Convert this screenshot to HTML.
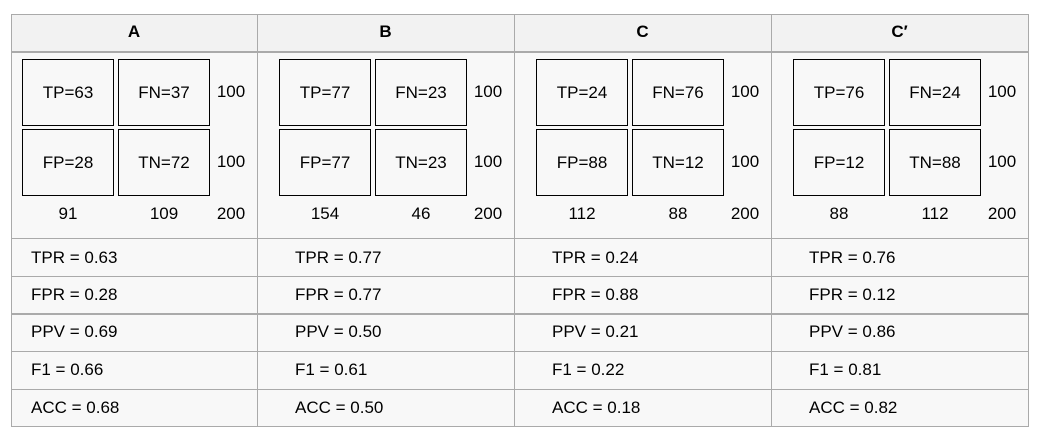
<!DOCTYPE html>
<html><head><style>
body{margin:0;width:1051px;height:444px;background:#fff;font-family:"Liberation Sans",Arial,sans-serif;font-size:17px;color:#000;position:relative;overflow:hidden}
.a{position:absolute}
.h{background:#f2f2f2}
.b{background:#f8f8f8}
.hl{position:absolute;height:1px;background:#aaa;left:11px;width:1018px}
.vl{position:absolute;width:1px;background:#aaa;top:14px;height:413px}
.box{position:absolute;border:1px solid #000;width:92px;height:67px;line-height:66px;text-align:center;box-sizing:border-box}
.t{position:absolute;text-align:center;line-height:20px}
.m{position:absolute;line-height:20px}
</style></head><body>
<div class="a h" style="left:11px;top:14px;width:1018px;height:38px"></div>
<div class="a b" style="left:11px;top:52px;width:1018px;height:375px"></div>
<div class="hl" style="top:14px"></div>
<div class="hl" style="top:51px;height:2px"></div>
<div class="hl" style="top:238px"></div>
<div class="hl" style="top:276px"></div>
<div class="hl" style="top:313px;height:2px"></div>
<div class="hl" style="top:351px"></div>
<div class="hl" style="top:389px"></div>
<div class="hl" style="top:426px"></div>
<div class="vl" style="left:11px"></div>
<div class="vl" style="left:257px"></div>
<div class="vl" style="left:514px"></div>
<div class="vl" style="left:771px"></div>
<div class="vl" style="left:1028px"></div>
<div id="c"></div>
<script>
var d=[["A",63,37,28,72,91,109,"0.63","0.28","0.69","0.66","0.68"],
["B",77,23,77,23,154,46,"0.77","0.77","0.50","0.61","0.50"],
["C",24,76,88,12,112,88,"0.24","0.88","0.21","0.22","0.18"],
["C′",76,24,12,88,88,112,"0.76","0.12","0.86","0.81","0.82"]];
var h="",cl=[11,257,514,771],cr=[257,514,771,1028];
d.forEach(function(r,i){var x=22+257*i;
h+='<div class="t" style="left:'+cl[i]+'px;width:'+(cr[i]-cl[i])+'px;top:22px;font-weight:bold">'+r[0]+'</div>';
h+='<div class="box" style="left:'+x+'px;top:59px">TP='+r[1]+'</div>';
h+='<div class="box" style="left:'+(x+96)+'px;top:59px">FN='+r[2]+'</div>';
h+='<div class="box" style="left:'+x+'px;top:129px">FP='+r[3]+'</div>';
h+='<div class="box" style="left:'+(x+96)+'px;top:129px">TN='+r[4]+'</div>';
h+='<div class="t" style="left:'+(x+192)+'px;width:34px;top:82px">100</div>';
h+='<div class="t" style="left:'+(x+192)+'px;width:34px;top:152px">100</div>';
h+='<div class="t" style="left:'+x+'px;width:92px;top:204px">'+r[5]+'</div>';
h+='<div class="t" style="left:'+(x+96)+'px;width:92px;top:204px">'+r[6]+'</div>';
h+='<div class="t" style="left:'+(x+192)+'px;width:34px;top:204px">200</div>';
var lb=["TPR","FPR","PPV","F1","ACC"],ys=[248,285,322,360,398],mx=[31,295,552,809][i];
lb.forEach(function(l,j){h+='<div class="m" style="left:'+mx+'px;top:'+ys[j]+'px">'+l+' = '+r[7+j]+'</div>';});
});
document.getElementById("c").innerHTML=h;
</script>
</body></html>
